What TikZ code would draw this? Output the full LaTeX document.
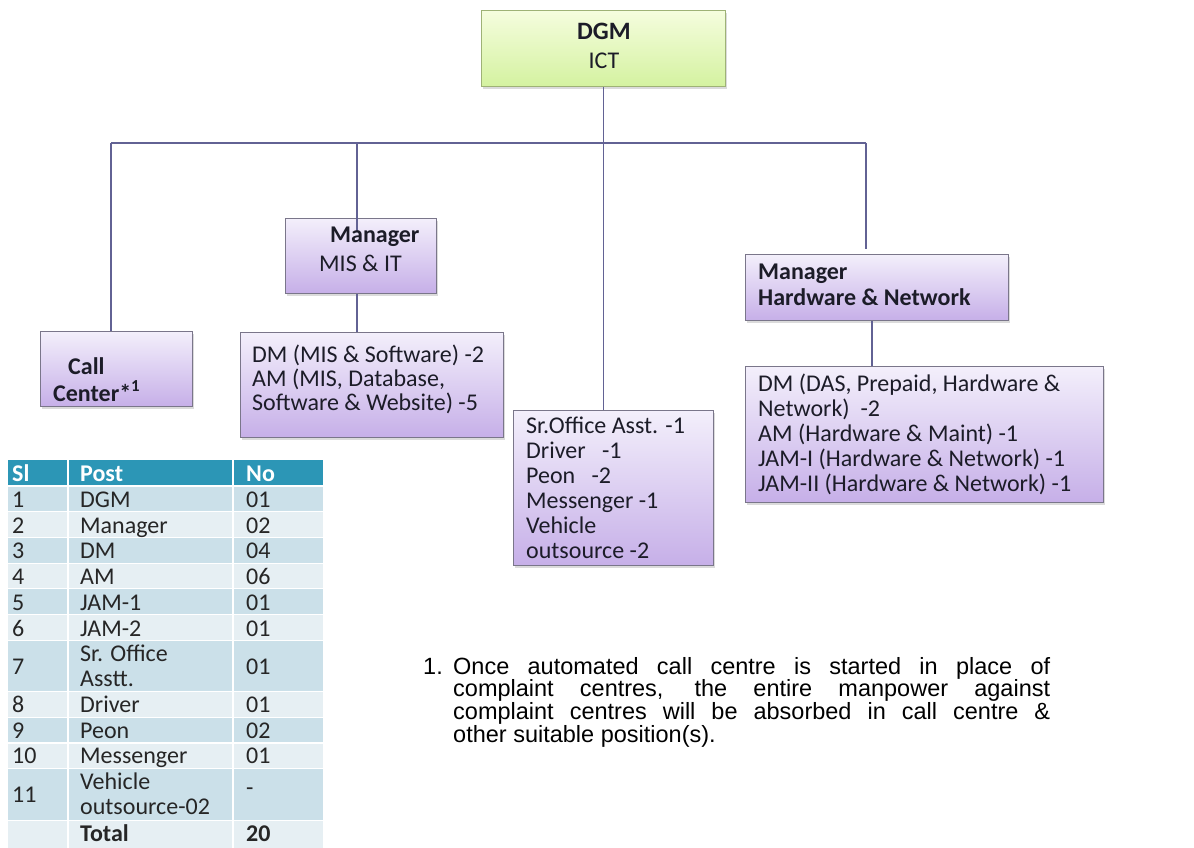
\documentclass[tikz,border=0pt]{standalone}
\usepackage{fontspec}
\setmainfont{Carlito}
\newfontfamily\notefont{Liberation Sans}
\usetikzlibrary{shadows}
\hbadness=10000

\definecolor{linkcol}{RGB}{98,98,148}
\definecolor{lavtop}{RGB}{243,239,251}
\definecolor{lavbot}{RGB}{198,175,232}
\definecolor{boxedge}{RGB}{122,118,138}
\definecolor{greentop}{RGB}{245,253,222}
\definecolor{greenbot}{RGB}{212,242,160}
\definecolor{greenedge}{RGB}{158,178,118}
\definecolor{headteal}{RGB}{44,150,182}
\definecolor{rowdark}{RGB}{203,224,233}
\definecolor{rowlight}{RGB}{230,239,243}
\definecolor{ink}{RGB}{28,28,40}

\tikzset{
  orgbox/.style={draw=boxedge, line width=1.2pt, top color=lavtop, bottom color=lavbot,
    inner sep=0pt, anchor=north west,
    drop shadow={shadow xshift=1.2pt, shadow yshift=-2.2pt, opacity=0.28}},
  topbox/.style={orgbox, draw=greenedge, top color=greentop, bottom color=greenbot},
  link/.style={draw=linkcol, line width=1.4pt},
  boxtxt/.style={inner sep=0pt, anchor=base west, text=ink, font=\fontsize{24}{25}\selectfont},
  celltxt/.style={inner sep=0pt, anchor=base west, text=black!85, font=\fontsize{24}{25}\selectfont},
  headtxt/.style={celltxt, text=white, font=\fontsize{24}{25}\selectfont\bfseries}
}

\begin{document}
\begin{tikzpicture}[x=1pt,y=-1pt]
\fill[white] (0,0) rectangle (1194,848);
\path[use as bounding box] (0,0) rectangle (1194,848);

% ---------- boxes ----------
\node[topbox, minimum width=244pt, minimum height=76pt] (dgm) at (481,10) {};
\node[orgbox, minimum width=151pt, minimum height=75pt] (mis) at (285,218) {};
\node[orgbox, minimum width=263pt, minimum height=66pt] (hw) at (745,254) {};
\node[orgbox, minimum width=152pt, minimum height=75pt] (call) at (40,331) {};
\node[orgbox, minimum width=263pt, minimum height=105pt] (dmmis) at (240,332) {};
\node[orgbox, minimum width=200pt, minimum height=155pt] (staff) at (513,410) {};
\node[orgbox, minimum width=358pt, minimum height=136pt] (dmhw) at (745,366) {};

% ---------- connectors ----------
\coordinate (busL) at (111,143);
\coordinate (busR) at (866,143);
\coordinate (misx) at (357,143);
\coordinate (hwx) at (872,320);
\draw[link] (dgm.south) -- (dgm.south |- staff.north);
\draw[link] (busL) -- (busR);
\draw[link] (busL) -- (busL |- call.north);
\draw[link] (busR) -- ([yshift=5pt]busR |- hw.north);
\draw[link] (misx) -- ([yshift=-14pt]misx |- mis.north);
\draw[link] (misx |- mis.south) -- (misx |- dmmis.north);
\draw[link] (hwx |- hw.south) -- (hwx |- dmhw.north);

% ---------- box texts ----------
\node[boxtxt, anchor=base, font=\fontsize{25}{25}\selectfont\bfseries] (dgm-a) at (604,40) {DGM};
\node[boxtxt, anchor=base] (dgm-b) at (604,68.5) {ICT};

\node[boxtxt, font=\fontsize{24}{25}\selectfont\bfseries] (mis-a) at (330,242) {Manager};
\node[boxtxt] (mis-b) at (319,271) {MIS \& IT};

\node[boxtxt, font=\fontsize{24}{25}\selectfont\bfseries] (hw-a) at (758,279) {Manager};
\node[boxtxt, font=\fontsize{24}{25}\selectfont\bfseries] (hw-b) at (758,305) {Hardware \& Network};

\node[boxtxt, font=\fontsize{24}{25}\selectfont\bfseries] (call-a) at (68,374) {Call};
\node[boxtxt, font=\fontsize{24}{25}\selectfont\bfseries] (call-b) at (53,401) {Center*\textsuperscript{1}};

\node[boxtxt] (dmmis-a) at (252,362) {DM (MIS \& Software) -2};
\node[boxtxt] (dmmis-b) at (252,386) {AM (MIS, Database,};
\node[boxtxt] (dmmis-c) at (252,410) {Software \& Website) -5};

\node[boxtxt] (staff-a) at (526,433) {Sr.Office Asst. -1};
\node[boxtxt] (staff-b) at (526,458) {Driver~~ -1};
\node[boxtxt] (staff-c) at (526,483) {Peon~~ -2};
\node[boxtxt] (staff-d) at (526,508) {Messenger -1};
\node[boxtxt] (staff-e) at (526,533) {Vehicle};
\node[boxtxt] (staff-f) at (526,558) {outsource -2};

\node[boxtxt] (dmhw-a) at (758,391) {DM (DAS, Prepaid, Hardware \&};
\node[boxtxt] (dmhw-b) at (758,416) {Network)~ -2};
\node[boxtxt] (dmhw-c) at (758,441) {AM (Hardware \& Maint) -1};
\node[boxtxt] (dmhw-d) at (758,466) {JAM-I (Hardware \& Network) -1};
\node[boxtxt] (dmhw-e) at (758,491) {JAM-II (Hardware \& Network) -1};

% ---------- staffing table ----------
\fill[headteal] (8,460) rectangle (323,486);
\foreach \t/\h/\c in {486/25.7/rowdark, 511.7/25.7/rowlight, 537.4/25.7/rowdark,
  563.1/25.7/rowlight, 588.8/25.7/rowdark, 614.5/25.7/rowlight, 640.2/51.4/rowdark,
  691.6/25.7/rowlight, 717.3/25.7/rowdark, 743/25.7/rowlight, 768.7/51.4/rowdark,
  820.1/27.9/rowlight}
  \fill[\c] (8,\t) rectangle (323,\t+\h);
\foreach \t in {486, 511.7, 537.4, 563.1, 588.8, 614.5, 640.2, 691.6, 717.3, 743, 768.7, 820.1}
  \draw[white, line width=1.2pt] (8,\t) -- (323,\t);
\draw[white, line width=1.4pt] (68,460) -- (68,848);
\draw[white, line width=1.4pt] (233,460) -- (233,848);

\node[headtxt] (h-sl) at (12,481) {Sl};
\node[headtxt] (h-post) at (80,481) {Post};
\node[headtxt] (h-no) at (246,481) {No};

\foreach \n/\b/\p/\q in {1/507.5/DGM/01, 2/533.2/Manager/02, 3/558.9/DM/04, 4/584.6/AM/06,
  5/610.3/JAM-1/01, 6/636/JAM-2/01, 8/712.4/Driver/01, 9/738.1/Peon/02, 10/763.8/Messenger/01}{
  \node[celltxt] (sl-\n) at (12,\b) {\n};
  \node[celltxt] (post-\n) at (80,\b) {\p};
  \node[celltxt] (no-\n) at (246,\b) {\q};
}
\node[celltxt] (sl-7) at (12,674) {7};
\node[celltxt] (post-7a) at (80,661.5) {Sr. Office};
\node[celltxt] (post-7b) at (80,686.5) {Asstt.};
\node[celltxt] (no-7) at (246,674) {01};
\node[celltxt] (sl-11) at (12,802.2) {11};
\node[celltxt] (post-11a) at (80,789.7) {Vehicle};
\node[celltxt] (post-11b) at (80,814.7) {outsource-02};
\node[celltxt] (no-11) at (246,795) {-};
\node[celltxt, font=\fontsize{24}{25}\selectfont\bfseries] (post-tot) at (80,841) {Total};
\node[celltxt, font=\fontsize{24}{25}\selectfont\bfseries] (no-tot) at (246,841) {20};

% ---------- footnote ----------
\node[inner sep=0pt, anchor=base west, text=black, font=\notefont\fontsize{23.5}{22.8}\selectfont] (note-num) at (423,674) {1.};
\node[inner sep=0pt, anchor=base west, text=black, text width=597pt, align=justify,
  font=\notefont\fontsize{23.5}{22.8}\selectfont] (note) at (453,674)
  {Once automated call centre is started in place of\linebreak
   complaint centres, the entire manpower against\linebreak
   complaint centres will be absorbed in call centre \&\linebreak
   other suitable position(s).};
\end{tikzpicture}
\end{document}
